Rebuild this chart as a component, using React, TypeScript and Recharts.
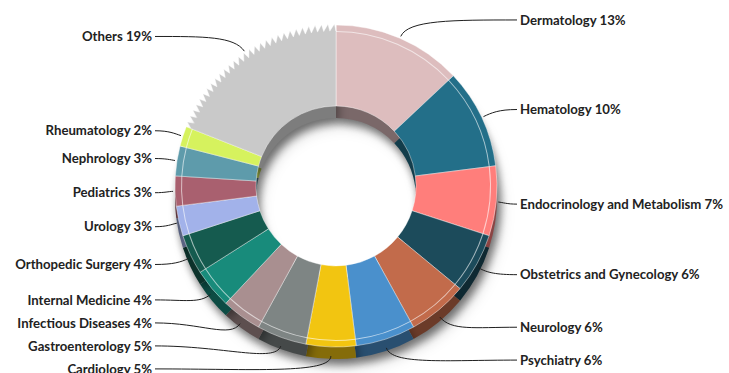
import React from 'react';
import { PieChart, Pie, Cell, Sector } from 'recharts';

const categories = [
  'Dermatology', 'Hematology', 'Endocrinology and Metabolism', 'Obstetrics and Gynecology',
  'Neurology', 'Psychiatry', 'Cardiology', 'Gastroenterology', 'Infectious Diseases',
  'Internal Medicine', 'Orthopedic Surgery', 'Urology', 'Pediatrics', 'Nephrology',
  'Rheumatology', 'Others',
];
const shares = [13, 10, 7, 6, 6, 6, 5, 5, 4, 4, 4, 3, 3, 3, 2, 19];
const colors = [
  '#DDBDBE', '#236F89', '#FF7E7B', '#1C4B5B', '#C26B4B', '#4A90CC', '#F2C511', '#7E8584',
  '#A98F90', '#188B7B', '#155B4F', '#A2B2EA', '#A9606F', '#5E9BAB', '#D6F25E', '#C9C9C9',
];

const W = 729;
const H = 373;
const CX = 336;
const CY = 186;
const R_OUT = 161;
const R_IN = 80;
const DEPTH = 12;
const LABEL_R = 182;
const LABEL_CY = 187;
const MIN_GAP = 23;

const data = categories.map((name, i) => ({ name, value: shares[i] }));

function darken(hex: string, f: number) {
  const n = parseInt(hex.slice(1), 16);
  const r = Math.round(((n >> 16) & 255) * f);
  const g = Math.round(((n >> 8) & 255) * f);
  const b = Math.round((n & 255) * f);
  return `rgb(${r},${g},${b})`;
}

// label layout computed from the data (mid-angles), then de-overlapped
const total = shares.reduce((a, b) => a + b, 0);
const layout = (() => {
  let cum = 0;
  const items = shares.map((v, i) => {
    const mid = 90 - (360 * (cum + v / 2)) / total;
    cum += v;
    const rad = (mid * Math.PI) / 180;
    return { i, right: Math.cos(rad) >= 0, y: LABEL_CY - LABEL_R * Math.sin(rad) };
  });
  [true, false].forEach((side) => {
    const s = items.filter((it) => it.right === side).sort((a, b) => a.y - b.y);
    for (let k = s.length - 2; k >= 0; k--) {
      if (s[k].y > s[k + 1].y - MIN_GAP) s[k].y = s[k + 1].y - MIN_GAP;
    }
  });
  const out: { right: boolean; y: number }[] = [];
  items.forEach((it) => (out[it.i] = { right: it.right, y: it.y }));
  return out;
})();

const RAD = Math.PI / 180;

const renderLabel = (props: any) => {
  const { cx, cy, midAngle, outerRadius, index } = props;
  const lay = layout[index];
  const cos = Math.cos(-midAngle * RAD);
  const sin = Math.sin(-midAngle * RAD);
  const sr = outerRadius + 2;
  const sx = cx + sr * cos;
  const sy = cy + sr * sin + (sin > 0 ? DEPTH * 0.6 * sin : 0);
  const ex = lay.right ? 517 : 155;
  const ey = lay.y;
  const dist = Math.hypot(ex - sx, ey - sy);
  const k = Math.min(18, dist * 0.25);
  const c1x = sx + cos * k;
  const c1y = sy + sin * k;
  const c2x = ex + (lay.right ? -1 : 1) * Math.abs(ex - sx) * 0.55;
  const c2y = ey;
  const tx = lay.right ? 520 : 152;
  return (
    <g key={`lab-${index}`}>
      <path
        d={`M${sx},${sy} C${c1x},${c1y} ${c2x},${c2y} ${ex},${ey}`}
        fill="none"
        stroke="#1f1f1f"
        strokeWidth={1}
      />
      <text
        x={tx}
        y={ey}
        dy="0.35em"
        textAnchor={lay.right ? 'start' : 'end'}
        fontFamily="Lato, 'Open Sans', sans-serif"
        fontWeight={700}
        fontSize={13.2}
        fill="#222222"
      >
        {`${categories[index]} ${shares[index]}%`}
      </text>
    </g>
  );
};

const sawShape = (props: any) => {
  const { cx, cy, innerRadius, outerRadius, startAngle, endAngle, fill, stroke, index, name } = props;
  const isOthers = index === categories.length - 1 || name === 'Others';
  if (!isOthers) return <Sector {...props} />;
  const pt = (r: number, a: number) => [cx + r * Math.cos(-a * RAD), cy + r * Math.sin(-a * RAD)];
  const n = 30;
  let d = '';
  const [ix0, iy0] = pt(innerRadius, startAngle);
  const [ox0, oy0] = pt(outerRadius - 5, startAngle);
  d += `M${ix0},${iy0} L${ox0},${oy0}`;
  for (let j = 0; j < n; j++) {
    const a0 = startAngle + ((endAngle - startAngle) * j) / n;
    const a1 = startAngle + ((endAngle - startAngle) * (j + 1)) / n;
    const [tx, ty] = pt(outerRadius + 1, a0 + (a1 - a0) * 0.75);
    const [vx, vy] = pt(outerRadius - 6, a1);
    d += ` L${tx},${ty} L${vx},${vy}`;
  }
  const [ox1, oy1] = pt(outerRadius + 1, endAngle);
  const [ix1, iy1] = pt(innerRadius, endAngle);
  const sweep = startAngle > endAngle ? 0 : 1;
  d += ` L${ox1},${oy1} L${ix1},${iy1} A${innerRadius},${innerRadius} 0 0 ${sweep} ${ix0},${iy0} Z`;
  return <path d={d} fill={fill} stroke={stroke} strokeWidth={0.8} />;
};

export default function App() {
  return (
    <div style={{ position: 'absolute', left: 0, top: 0, width: W, height: H, background: '#fff' }}>
      <style>{`.depth-pie { filter: drop-shadow(3px 5px 4px rgba(0,0,0,0.35)); }`}</style>
      <PieChart width={W} height={H} margin={{ top: 0, right: 0, bottom: 0, left: 0 }}>
        <Pie
          className="depth-pie"
          data={data}
          dataKey="value"
          nameKey="name"
          cx={CX}
          cy={CY + DEPTH}
          innerRadius={R_IN}
          outerRadius={R_OUT}
          startAngle={90}
          endAngle={-270}
          stroke="none"
          isAnimationActive={false}
        >
          {data.map((d, i) => (
            <Cell key={`d-${i}`} fill={darken(colors[i], i === 15 ? 0.62 : 0.55)} />
          ))}
        </Pie>
        <Pie
          data={data}
          dataKey="value"
          nameKey="name"
          cx={CX}
          cy={CY}
          innerRadius={R_IN}
          outerRadius={R_OUT}
          startAngle={90}
          endAngle={-270}
          stroke="rgba(255,255,255,0.55)"
          strokeWidth={0.8}
          shape={sawShape}
          label={renderLabel}
          labelLine={false}
          isAnimationActive={false}
        >
          {data.map((d, i) => (
            <Cell key={`f-${i}`} fill={colors[i]} />
          ))}
        </Pie>
        <Pie
          data={data}
          dataKey="value"
          nameKey="name"
          cx={CX}
          cy={CY}
          innerRadius={R_OUT - 7}
          outerRadius={R_OUT - 6}
          startAngle={90}
          endAngle={-270}
          stroke="none"
          isAnimationActive={false}
        >
          {data.map((d, i) => (
            <Cell key={`h-${i}`} fill={i === 15 ? 'rgba(255,255,255,0)' : 'rgba(255,255,255,0.6)'} />
          ))}
        </Pie>
      </PieChart>
    </div>
  );
}
